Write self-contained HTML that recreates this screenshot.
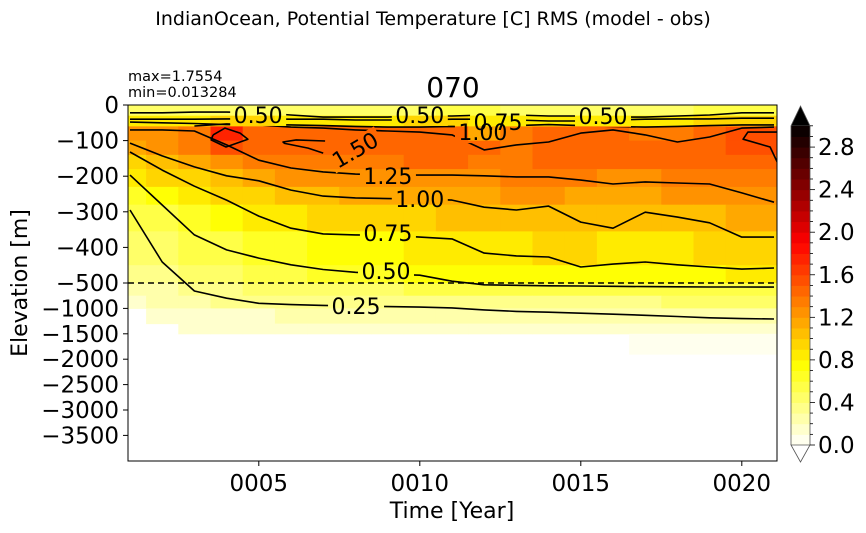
<!DOCTYPE html>
<html><head><meta charset="utf-8"><style>
html,body{margin:0;padding:0;background:#fff;}
svg{display:block;font-family:"DejaVu Sans","Liberation Sans",sans-serif;}
</style></head><body>
<svg id="chart" width="866" height="533" viewBox="0 0 866 533" xmlns="http://www.w3.org/2000/svg">
<text x="433" y="25" font-size="19" text-anchor="middle">IndianOcean, Potential Temperature [C] RMS (model - obs)</text>
<text x="128" y="81" font-size="14.5">max=1.7554</text>
<text x="128" y="97" font-size="14.5">min=0.013284</text>
<text x="453" y="97" font-size="28" text-anchor="middle">070</text>
<text x="0" y="0" font-size="22" text-anchor="middle" transform="translate(27,283) rotate(-90)">Elevation [m]</text>
<text x="452" y="518" font-size="22" text-anchor="middle">Time [Year]</text>
<defs>
<clipPath id="plotclip"><rect x="128" y="105" width="649" height="356"/></clipPath>
<mask id="labelmask" maskUnits="userSpaceOnUse" x="0" y="0" width="866" height="533"><rect x="0" y="0" width="866" height="533" fill="#fff"/><g id="maskholes"></g></mask>
</defs>
<g id="cells" clip-path="url(#plotclip)"></g>
<g id="contours" clip-path="url(#plotclip)"></g>
<g id="clabels"></g>
<rect x="128" y="105" width="649" height="356" fill="none" stroke="#000" stroke-width="1"/>
<g id="yticks"></g>
<g id="xticks"></g>
<g id="cbar"></g>
</svg>
<script>
const years = [1,2,3,4,5,6,7,8,9,10,11,12,13,14,15,16,17,18,19,20,21];
const depthEdges = [0,30,60,100,140,180,230,280,355,450,500,750,1000,1300,1500,1900];
const row0 = [0.4,0.45,0.45,0.45,0.45,0.45,0.4,0.45,0.45,0.45,0.5,0.5,0.45,0.45,0.4,0.45,0.45,0.45,0.5,0.55,0.55];
const row1 = [0.8,0.85,0.85,0.9,0.9,0.85,0.85,0.85,0.85,0.9,0.9,0.85,0.85,0.85,0.85,0.85,0.85,0.85,0.9,0.9,0.9];
const row2 = [1.2,1.25,1.35,1.7,1.4,1.4,1.45,1.4,1.4,1.45,1.4,1.1,1.3,1.45,1.45,1.4,1.35,1.35,1.4,1.55,1.55];
const row3 = [1.15,1.2,1.35,1.5,1.4,1.45,1.45,1.4,1.4,1.45,1.4,1.4,1.35,1.45,1.45,1.4,1.4,1.4,1.45,1.55,1.55];
const row4 = [0.95,1.05,1.15,1.25,1.3,1.35,1.35,1.35,1.35,1.4,1.4,1.35,1.35,1.45,1.45,1.4,1.4,1.4,1.45,1.45,1.45];
const row5 = [0.8,0.9,0.95,1.05,1.15,1.2,1.25,1.25,1.25,1.25,1.25,1.25,1.3,1.3,1.3,1.25,1.25,1.3,1.3,1.35,1.35];
const row6 = [0.65,0.7,0.8,0.9,0.95,1.0,1.05,1.1,1.1,1.1,1.15,1.15,1.2,1.2,1.15,1.1,1.15,1.2,1.2,1.25,1.25];
const row7 = [0.5,0.55,0.65,0.75,0.8,0.85,0.9,0.9,0.95,0.95,1.0,1.0,1.0,1.05,1.05,1.0,1.0,1.05,1.05,1.1,1.1];
const row8 = [0.4,0.45,0.5,0.55,0.6,0.65,0.7,0.75,0.75,0.8,0.85,0.85,0.85,0.9,0.9,0.85,0.85,0.85,0.9,0.9,0.9];
const row9 = [0.3,0.35,0.4,0.45,0.5,0.55,0.6,0.6,0.65,0.7,0.7,0.75,0.75,0.75,0.75,0.75,0.75,0.75,0.75,0.8,0.8];
const row10 = [0.2,0.25,0.3,0.35,0.4,0.4,0.45,0.45,0.45,0.5,0.5,0.5,0.55,0.55,0.55,0.55,0.55,0.55,0.55,0.55,0.55];
const row11 = [0.15,0.2,0.25,0.3,0.3,0.3,0.3,0.35,0.35,0.35,0.35,0.35,0.35,0.35,0.35,0.35,0.35,0.4,0.4,0.4,0.4];
const row12 = [null,0.1,0.15,0.15,0.15,0.2,0.2,0.2,0.2,0.2,0.2,0.2,0.2,0.2,0.2,0.2,0.2,0.25,0.25,0.25,0.25];
const row13 = [null,null,0.1,0.1,0.1,0.1,0.1,0.1,0.1,0.1,0.1,0.1,0.1,0.1,0.1,0.1,0.15,0.15,0.15,0.15,0.15];
const row14 = [null,null,null,null,null,null,null,null,null,null,null,null,null,null,null,null,0.08,0.08,0.08,0.08,0.08];
const grid = [row0,row1,row2,row3,row4,row5,row6,row7,row8,row9,row10,row11,row12,row13,row14];

const c025 = [295,441,657,800,900,925,940,952,965,975,990,1030,1060,1075,1095,1115,1135,1160,1185,1200,1209];
const c050 = [197,281,365,407,430,449,462,470,475,478,495,535,545,555,560,565,570,575,578,579,580];
const c075 = [132,183,228,267,312,346,362,365,366,371,376,416,424,427,455,447,441,449,455,461,458];
const c100 = [107,143,174,199,213,239,256,261,263,264,267,287,295,284,329,346,301,315,331,371,371];
const c125 = [70,70,73,112,155,177,188,194,197,197,197,199,202,202,211,222,216,219,222,247,273];
const c125topYears = [3,4,5,6,7,8,9,10,11,12,13,14,15,16,17,18,19,20,21];
const c125top = [59,53,56,62,65,70,73,76,84,126,112,104,79,70,84,104,90,65,62];
const c100top = [48,50,52,55,55,56,58,60,62,62,60,62,58,55,58,60,62,60,58,56,56];
const c075top = [40,40,40,39,39,40,40,42,42,42,40,40,42,45,45,42,40,39,39,37,37];
const c050top = [22,22,20,20,22,28,34,34,34,31,31,28,28,31,31,34,34,31,28,22,22];
const hot1Years = [3.58,3.95,4.42,4.66,3.98,3.52,3.58];
const hot1Depth = [84,65,79,96,118,98,84];
const tongueYears = [7.06,6.16,5.75,5.8,6.53,7.0];
const tongueDepth = [101,98,104,108,121,135];
const hot2Years = [21.1,20.19,20.04,20.88,21.1];
const hot2Depth = [76,76,96,118,160];

const labelText = ["0.50","0.50","0.75","1.00","0.50","1.50","1.25","1.00","0.75","0.50","0.25"];
const labelYear = [4.98,10.0,12.43,11.96,15.69,7.99,9.01,10.0,9.01,8.95,8.02];
const labelDepth = [28,28,48,76,31,126,199,264,360,466,953];
const labelRot = [0,0,0,0,0,-30,0,0,0,0,0];

const yTickVals = [0,-100,-200,-300,-400,-500,-1000,-1500,-2000,-2500,-3000,-3500];
const xTickVals = [5,10,15,20];
const xTickLabels = ["0005","0010","0015","0020"];
const cbTickVals = [0.0,0.4,0.8,1.2,1.6,2.0,2.4,2.8];

const NS = "http://www.w3.org/2000/svg";
function xS(yr){ return 130 + (yr-1)*32.2; }
function yS(d){ return d<=500 ? 105 + d*0.356 : 283 + (d-500)*0.0508; }
function hotR(v){
  const t = Math.max(0,Math.min(1,v/3));
  const x = 1-t;
  const r = Math.min(1,x/0.365), g = Math.max(0,Math.min(1,(x-0.365)/0.381)), b = Math.max(0,Math.min(1,(x-0.746)/0.254));
  return "rgb("+Math.round(r*255)+","+Math.round(g*255)+","+Math.round(b*255)+")";
}
function bandColor(v){ const lv = Math.floor(v*10)/10 + 0.05; return hotR(lv); }
function mk(tag, parent, attrs){ const e = document.createElementNS(NS, tag); for (const k in attrs) e.setAttribute(k, attrs[k]); parent.appendChild(e); return e; }

const gc = document.getElementById('cells');
grid.forEach((row, ri) => {
  row.forEach((v, ci) => {
    if (v === null) return;
    const x0 = xS(years[ci]-0.5), x1 = xS(years[ci]+0.5);
    const y0 = yS(depthEdges[ri]), y1 = yS(depthEdges[ri+1]);
    const r = mk('rect', gc, {x:x0, y:y0, width:x1-x0+0.5, height:y1-y0+0.5, fill:bandColor(v)});
    
    
  });
});

const holes = document.getElementById('maskholes');
const gl = document.getElementById('clabels');
labelText.forEach((t, i) => {
  const cx = xS(labelYear[i]), cy = yS(labelDepth[i]);
  mk('rect', holes, {x:cx-28, y:cy-11, width:56, height:22, fill:'#000', transform:'rotate('+labelRot[i]+' '+cx+' '+cy+')'});
  const tx = mk('text', gl, {x:cx, y:cy+8, 'font-size':22, 'text-anchor':'middle', transform:'rotate('+labelRot[i]+' '+cx+' '+cy+')'});
  tx.textContent = t;
  
  
});

const gco = document.getElementById('contours');
function line(xs, ds, name){
  const pts = xs.map((yr,i)=> xS(yr).toFixed(1)+','+yS(ds[i]).toFixed(1)).join(' ');
  const p = mk('polyline', gco, {points:pts, fill:'none', stroke:'#000', 'stroke-width':1.6, 'stroke-linejoin':'round', mask:'url(#labelmask)'});
  
  
}
line(years, c025, 'contour-0-25');
line(years, c050, 'contour-0-50');
line(years, c075, 'contour-0-75');
line(years, c100, 'contour-1-00');
line(years, c125, 'contour-1-25');
line(c125topYears, c125top, 'contour-1-25-upper');
line(years, c100top, 'contour-1-00-upper');
line(years, c075top, 'contour-0-75-upper');
line(years, c050top, 'contour-0-50-upper');
line(hot1Years, hot1Depth, 'contour-1-50-hotspot');
line(tongueYears, tongueDepth, 'contour-1-50-tongue');
line(hot2Years, hot2Depth, 'contour-1-50-right');
const dl = mk('line', gco, {x1:128, x2:777, y1:yS(500), y2:yS(500), stroke:'#000', 'stroke-width':1.6, 'stroke-dasharray':'6,4'});



const gy = document.getElementById('yticks');
yTickVals.forEach(v => {
  const y = yS(-v);
  mk('line', gy, {x1:123, x2:128, y1:y, y2:y, stroke:'#000', 'stroke-width':1});
  const t = mk('text', gy, {x:119, y:y+8, 'font-size':23, 'text-anchor':'end'});
  t.textContent = (v<0 ? '\u2212'+(-v) : String(v));
  
  
});
const gx = document.getElementById('xticks');
xTickVals.forEach((v,i) => {
  const x = xS(v);
  mk('line', gx, {x1:x, x2:x, y1:461, y2:466, stroke:'#000', 'stroke-width':1});
  const t = mk('text', gx, {x:x, y:491, 'font-size':23, 'text-anchor':'middle'});
  t.textContent = xTickLabels[i];
  
  
});

const gb = document.getElementById('cbar');
function cbY(v){ return 445 - v*106.4; }
for (let k=0; k<30; k++){
  const v0 = k/10, v1 = (k+1)/10;
  mk('rect', gb, {x:791, y:cbY(v1), width:19, height:cbY(v0)-cbY(v1)+0.5, fill:hotR(v0+0.05)});
}
mk('polygon', gb, {points:'791,'+cbY(3)+' 810,'+cbY(3)+' 800.5,106', fill:'#000'});
mk('polygon', gb, {points:'791,445 810,445 800.5,462', fill:'#fff', stroke:'#555', 'stroke-width':0.8});
mk('polyline', gb, {points:'791,445 791,'+cbY(3)+' 800.5,106 810,'+cbY(3)+' 810,445', fill:'none', stroke:'#555', 'stroke-width':0.8});
for (let k=0; k<=30; k++){
  const y = cbY(k/10);
  mk('line', gb, {x1:810, x2:(k%4===0?815:813), y1:y, y2:y, stroke:'#000', 'stroke-width':0.8});
}
cbTickVals.forEach(v => {
  const t = mk('text', gb, {x:818, y:cbY(v)+8, 'font-size':23});
  t.textContent = v.toFixed(1);
  
  
});
</script>
</body></html>
